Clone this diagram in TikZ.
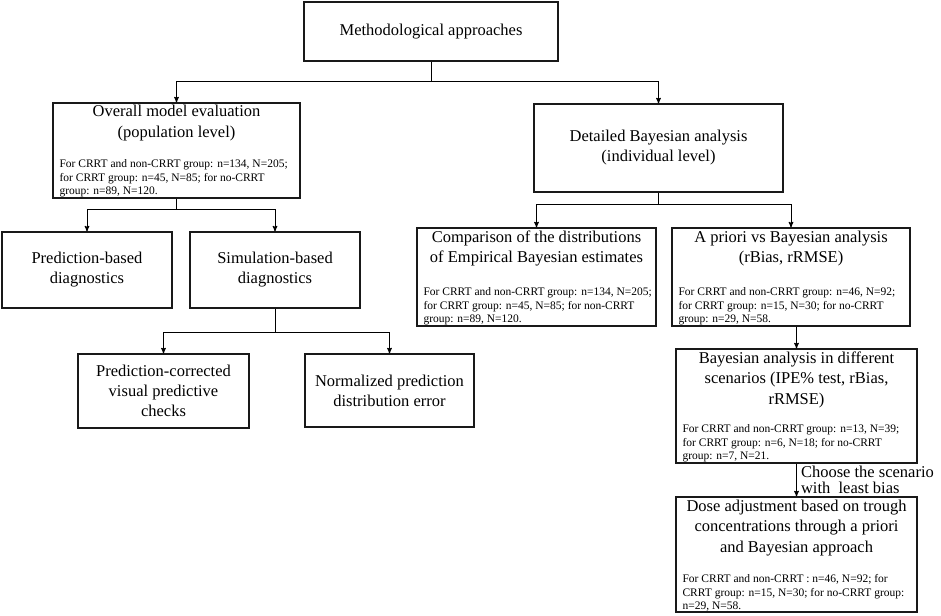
\documentclass[tikz,border=0pt]{standalone}
\usepackage{fontspec}
\setmainfont{Liberation Serif}
\usetikzlibrary{arrows,positioning}
\tikzset{
  box/.style = {rectangle, draw=black!90, line width=1.3pt, inner sep=0pt,
    align=center, font=\fontsize{16.5}{20}\selectfont},
  sz/.style 2 args = {minimum width=#1, minimum height=#2},% box size in px
  ttl/.style = {align=center, inner sep=0pt, font=\fontsize{16.5}{20.5}\selectfont},
  nt/.style = {align=left, inner sep=0pt, font=\fontsize{11.5}{13.5}\selectfont},
  link/.style = {draw=black, line width=1pt},
  go/.style = {link, ->}% connector with arrow head
}

\begin{document}
\begin{tikzpicture}[x=1pt,y=-1pt,>=stealth']
\useasboundingbox (0,0) rectangle (941,615);

% boxes
\node [box, sz={254}{59}] (meth) at (431,31.5) {Methodological approaches};

\node [box, sz={247}{95}] (eval) at (176.5,150.5) {};
\node [ttl, below=3pt of eval.north] {Overall model evaluation\\(population level)};
\node [nt, above right=1pt and 7pt of eval.south west]
  {For CRRT and non-CRRT group: n=134, N=205;\\for CRRT group: n=45, N=85; for no-CRRT\\group: n=89, N=120.};

\node [box, sz={249}{88}] (bayes) at (658.5,148) {Detailed Bayesian analysis\\(individual level)};

\node [box, sz={170}{76}] (pred) at (87,270) {Prediction-based\\diagnostics};
\node [box, sz={170}{76}] (sim) at (275,270) {Simulation-based\\diagnostics};
\node [box, sz={171}{74}] (pcvpc) at (163.5,391) {Prediction-corrected\\visual predictive\\checks};
\node [box, sz={169}{73}] (npde) at (389.5,390.5) {Normalized prediction\\distribution error};

\node [box, sz={239}{98}] (ebe) at (536.5,277) {};
\node [ttl, below=3pt of ebe.north] {Comparison of the distributions\\of Empirical Bayesian estimates};
\node [nt, above right=1pt and 7pt of ebe.south west]
  {For CRRT and non-CRRT group: n=134, N=205;\\for CRRT group: n=45, N=85; for non-CRRT\\group: n=89, N=120.};

\node [box, sz={238}{98}] (apri) at (791,277) {};
\node [ttl, below=3pt of apri.north] {A priori vs Bayesian analysis\\(rBias, rRMSE)};
\node [nt, above right=1pt and 7pt of apri.south west]
  {For CRRT and non-CRRT group: n=46, N=92;\\for CRRT group: n=15, N=30; for no-CRRT\\group: n=29, N=58.};

\node [box, sz={241}{114}] (scen) at (796.5,406) {};
\node [ttl, below=3pt of scen.north] {Bayesian analysis in different\\scenarios (IPE\% test, rBias,\\rRMSE)};
\node [nt, above right=1pt and 7pt of scen.south west]
  {For CRRT and non-CRRT group: n=13, N=39;\\for CRRT group: n=6, N=18; for no-CRRT\\group: n=7, N=21.};

\node [box, sz={241}{115}] (dose) at (796.5,554.5) {};
\node [ttl, below=3pt of dose.north] {Dose adjustment based on trough\\concentrations through a priori\\and Bayesian approach};
\node [nt, above right=1pt and 7pt of dose.south west]
  {For CRRT and non-CRRT : n=46, N=92; for\\CRRT group: n=15, N=30; for no-CRRT group:\\n=29, N=58.};

% connectors
\coordinate (bus0) at (431,82);
\coordinate (bus1) at (176.5,209);
\coordinate (bus2) at (275,332);
\coordinate (bus3) at (658.5,204);

\draw [go] (meth.south) -- (bus0) -| (eval.north);
\draw [go] (meth.south) -- (bus0) -| (bayes.north);
\draw [go] (eval.south) -- (bus1) -| (pred.north);
\draw [go] (eval.south) -- (bus1) -| (sim.north);
\draw [go] (sim.south) -- (bus2) -| (pcvpc.north);
\draw [go] (sim.south) -- (bus2) -| (npde.north);
\draw [go] (bayes.south) -- (bus3) -| (ebe.north);
\draw [go] (bayes.south) -- (bus3) -| (apri.north);
\draw [go] (scen.north |- apri.south) -- (scen.north);
\draw [go] (scen.south) -- node [right, align=left, inner sep=4pt,
  font=\fontsize{16.5}{15.5}\selectfont] (pick) {Choose the scenario\\with\ \ least bias} (dose.north);
\end{tikzpicture}
\end{document}
